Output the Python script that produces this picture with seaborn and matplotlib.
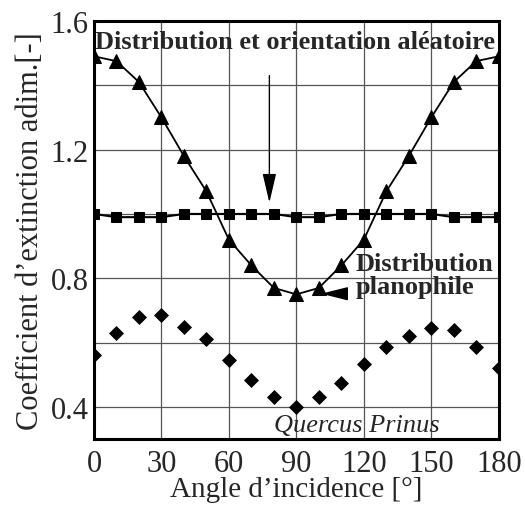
import numpy as np
import pandas as pd
import seaborn as sns
import matplotlib
matplotlib.use("Agg")
import matplotlib.pyplot as plt

sns.set_theme(style="ticks")
plt.rcParams['font.family'] = ['Liberation Serif', 'DejaVu Serif']

angles = [0, 10, 20, 30, 40, 50, 60, 70, 80, 90, 100, 110, 120, 130, 140, 150, 160, 170, 180]
aleatoire = [1.0, 0.99, 0.99, 0.99, 1.0, 1.0, 1.0, 1.0, 1.0, 0.99, 0.99, 1.0, 1.0, 1.0, 1.0, 1.0, 0.99, 0.99, 0.99]
planophile = [1.49, 1.475, 1.41, 1.30, 1.18, 1.07, 0.92, 0.84, 0.77, 0.75, 0.77, 0.84, 0.92, 1.07, 1.18, 1.30, 1.41, 1.475, 1.49]
quercus = [0.56, 0.63, 0.68, 0.685, 0.65, 0.61, 0.547, 0.484, 0.432, 0.40, 0.432, 0.474, 0.533, 0.585, 0.62, 0.646, 0.64, 0.585, 0.52]

df = pd.DataFrame({"angle": angles, "aleatoire": aleatoire,
                   "planophile": planophile, "quercus": quercus})

fig = plt.figure(figsize=(5.25, 5.1), dpi=100)
ax = fig.add_axes([0.179, 0.137, 0.771, 0.82])

sns.lineplot(data=df, x="angle", y="planophile", ax=ax, color="black", lw=1.3,
             marker="^", markersize=10, markeredgecolor="black", zorder=3)
sns.lineplot(data=df, x="angle", y="aleatoire", ax=ax, color="black", lw=1.5,
             marker="s", markersize=7, markeredgecolor="black", zorder=3)
sns.scatterplot(data=df, x="angle", y="quercus", ax=ax, color="black",
                marker="D", s=50, edgecolor="black", zorder=3)

ax.set_xlim(0, 180)
ax.set_ylim(0.3, 1.6)
ax.set_xticks(np.arange(0, 181, 30))
ax.set_yticks([0.4, 0.8, 1.2, 1.6])
ax.set_yticks(np.arange(0.4, 1.61, 0.2), minor=True)
ax.set_xticklabels([str(a) for a in range(0, 181, 30)])
ax.set_yticklabels(["0.4", "0.8", "1.2", "1.6"])
ax.grid(True, which="both", color="#555555", lw=0.9)
ax.tick_params(which="both", length=0, labelsize=22)
ax.tick_params(axis="x", pad=7)
ax.tick_params(axis="y", pad=4)
for s in ax.spines.values():
    s.set_linewidth(2.2)
    s.set_color("black")

ax.set_xlabel("Angle d\u2019incidence [\u00b0]", fontsize=21, labelpad=-1)
ax.set_ylabel("Coefficient d\u2019extinction adim.[-]", fontsize=22, labelpad=4)

ax.text(89.5, 1.535, "Distribution et orientation al\u00e9atoire", ha="center", va="center",
        fontsize=19, fontweight="bold")
ax.text(116.5, 0.81, "Distribution\nplanophile", ha="left", va="center",
        fontsize=19, fontweight="bold", linespacing=1.0)
ax.text(117, 0.345, "Quercus Prinus", ha="center", va="center",
        fontsize=19, style="italic")

ax.annotate("", xy=(78, 1.035), xytext=(78, 1.43),
            arrowprops=dict(arrowstyle="-|>,head_length=1.5,head_width=0.35",
                            color="black", lw=1, shrinkA=0, shrinkB=0))
ax.annotate("", xy=(101, 0.752), xytext=(112.5, 0.752),
            arrowprops=dict(arrowstyle="-|>,head_length=1.4,head_width=0.35",
                            color="black", lw=1, shrinkA=0, shrinkB=0))

fig.savefig("out.png", dpi=100)
